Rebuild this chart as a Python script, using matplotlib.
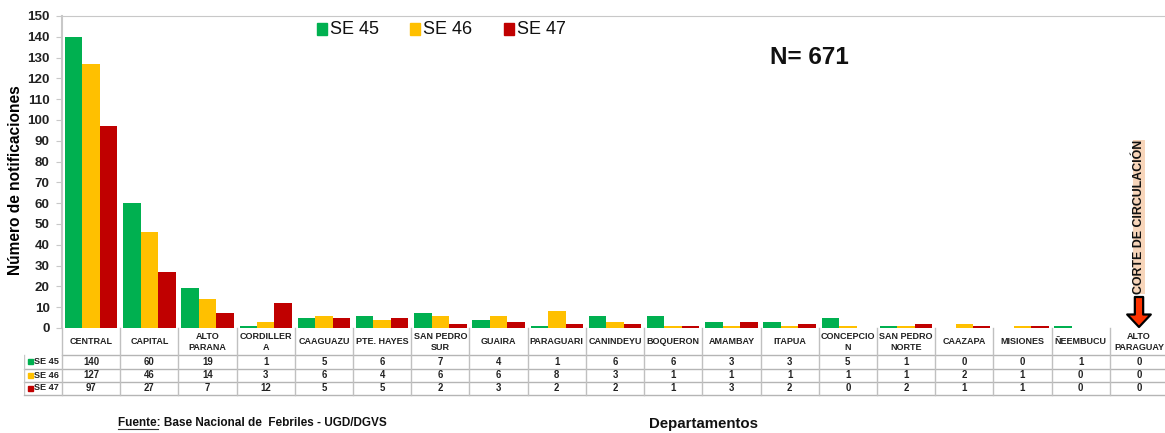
import matplotlib

matplotlib.use("Agg")
import matplotlib.pyplot as plt
import numpy as np
from matplotlib.patches import Rectangle

departamentos = [
    "CENTRAL", "CAPITAL", "ALTO\nPARANA", "CORDILLER\nA", "CAAGUAZU", "PTE. HAYES",
    "SAN PEDRO\nSUR", "GUAIRA", "PARAGUARI", "CANINDEYU", "BOQUERON", "AMAMBAY",
    "ITAPUA", "CONCEPCIO\nN", "SAN PEDRO\nNORTE", "CAAZAPA", "MISIONES", "ÑEEMBUCU",
    "ALTO\nPARAGUAY",
]
se45 = [140, 60, 19, 1, 5, 6, 7, 4, 1, 6, 6, 3, 3, 5, 1, 0, 0, 1, 0]
se46 = [127, 46, 14, 3, 6, 4, 6, 6, 8, 3, 1, 1, 1, 1, 1, 2, 1, 0, 0]
se47 = [97, 27, 7, 12, 5, 5, 2, 3, 2, 2, 1, 3, 2, 0, 2, 1, 1, 0, 0]
series = [("SE 45", se45, "#00b050"), ("SE 46", se46, "#ffc000"), ("SE 47", se47, "#c00000")]
yticks = list(range(0, 151, 10))

W, H = 1165, 433
plt.rcParams["font.family"] = ["Liberation Sans", "DejaVu Sans"]
plt.rcParams["font.weight"] = "bold"
plt.rcParams["axes.labelweight"] = "bold"
GRID = "#c8c8c8"

fig = plt.figure(figsize=(W / 100, H / 100), dpi=100)


def px_axes(x0, y0, x1, y1):
    return fig.add_axes([x0 / W, 1 - y1 / H, (x1 - x0) / W, (y1 - y0) / H])


# bar panel, right edge runs off the picture like the original
ax = px_axes(62, 16, 1168, 328)
x = np.arange(len(departamentos))
bw = 0.3
for i, (name, values, color) in enumerate(series):
    ax.bar(x + 0.5 + (i - 1) * bw, values, bw, color=color)
ax.set_xlim(0, len(departamentos))
ax.set_ylim(0, 150)
ax.set_yticks(yticks)
ax.tick_params(axis="y", labelsize=9.6, length=4, color=GRID, pad=5, labelcolor="#222222")
ax.set_xticks([])
ax.set_ylabel("Número de notificaciones", fontsize=11.2)
ax.yaxis.set_label_coords(-39 / 1106, 0.474)
for side in ("right", "bottom"):
    ax.spines[side].set_visible(False)
ax.spines["top"].set_color(GRID)
ax.spines["left"].set_color(GRID)
ax.spines["left"].set_linewidth(1.5)

# table under the bars: one unit per column, rows counted from the top
tb = px_axes(24, 328, 1168, 395)
tb.set_xlim(-38 / 58.2, len(departamentos))
tb.set_ylim(67, 0)
tb.axis("off")
row_y = [27, 40.5, 53.5, 66.5]
for y in row_y:
    tb.plot([-38 / 58.2 if y != 27 else 0, len(departamentos)], [y, y], color="#b5b5b5", lw=1, clip_on=False)
tb.plot([-38 / 58.2] * 2, [27, 66.5], color="#c8c8c8", lw=1)
for c in range(len(departamentos) + 1):
    tb.plot([c, c], [0, 66.5], color="#c0c0c0", lw=1, clip_on=False)
for c, name in enumerate(departamentos):
    tb.text(c + 0.5, 14, name, ha="center", va="center", fontsize=6.5, linespacing=1.25, color="#222222")
for r, (name, values, color) in enumerate(series):
    yc = (row_y[r] + row_y[r + 1]) / 2
    tb.add_patch(Rectangle((-0.59, yc - 2.5), 0.09, 5, color=color))
    tb.text(-0.48, yc, name, ha="left", va="center", fontsize=6.6, color="#222222")
    for c, v in enumerate(values):
        tb.text(c + 0.5, yc, str(v), ha="center", va="center", fontsize=6.9, color="#222222")


def fig_text(px, py, s, **kw):
    return fig.text(px / W, 1 - py / H, s, **kw)


# legend
for (name, values, color), lx in zip(series, [317, 410, 504]):
    fig.patches.append(Rectangle((lx / W, 1 - 35 / H), 10 / W, 12 / H, color=color, transform=fig.transFigure))
    fig_text(lx + 13, 29, name, fontsize=13, va="center", ha="left", fontweight="normal", color="#111111")

fig_text(809, 57, "N= 671", fontsize=17.5, ha="center", va="center", color="#111111")
fig_text(118, 423, "Fuente: Base Nacional de  Febriles - UGD/DGVS", fontsize=8.5, ha="left", va="center", color="#111111")
fig.add_artist(plt.Line2D([118 / W, 158 / W], [1 - 429 / H] * 2, color="#333333", lw=0.8))
fig_text(703, 424, "Departamentos", fontsize=10.8, ha="center", va="center", color="#111111")

# corte de circulacion marker
fig_text(1139, 217, "CORTE DE CIRCULACIÓN", fontsize=8.9, rotation=90, ha="center", va="center", color="#111111",
         bbox=dict(facecolor="#f7d5ba", edgecolor="none", pad=0))
ax.annotate(
    "", xy=(1139 / W, 1 - 327 / H), xytext=(1139 / W, 1 - 297 / H),
    xycoords="figure fraction", textcoords="figure fraction",
    arrowprops=dict(facecolor="#ff3300", edgecolor="black", lw=1.6, width=6, headwidth=17, headlength=9, shrink=0),
)

fig.savefig("out.png", dpi=100)
plt.close(fig)
